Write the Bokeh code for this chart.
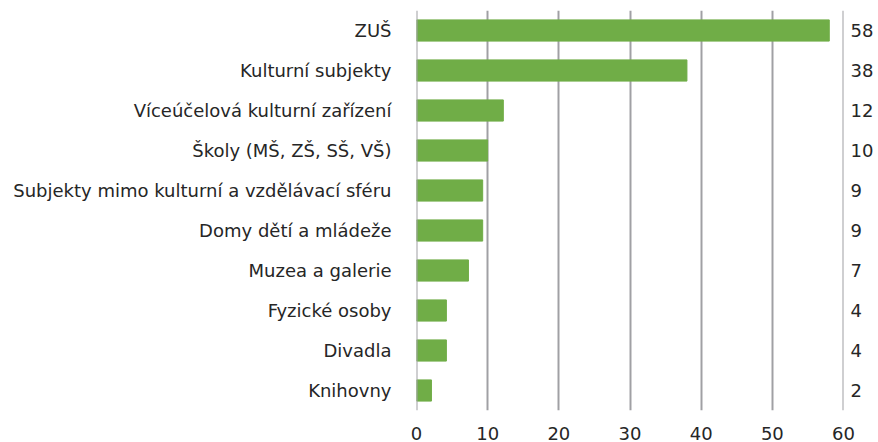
from bokeh.plotting import figure
from bokeh.models import Range1d, LinearAxis, FixedTicker, SingleIntervalTicker, Span
from bokeh.embed import file_html
from bokeh.resources import INLINE

categories = ["ZUŠ", "Kulturní subjekty", "Víceúčelová kulturní zařízení",
              "Školy (MŠ, ZŠ, SŠ, VŠ)", "Subjekty mimo kulturní a vzdělávací sféru",
              "Domy dětí a mládeže", "Muzea a galerie", "Fyzické osoby",
              "Divadla", "Knihovny"]
values = [58.0, 38.0, 12.2, 10.0, 9.3, 9.3, 7.3, 4.2, 4.2, 2.1]
value_labels = ["58", "38", "12", "10", "9", "9", "7", "4", "4", "2"]

n = len(categories)
ypos = [n - i for i in range(n)]

FONT = "DejaVu Sans"
TXT = "#262626"
GRID = "#A0A0A4"

p = figure(frame_width=427, frame_height=400, output_backend="svg", toolbar_location=None,
           x_range=Range1d(0, 60), y_range=Range1d(0.5, n + 0.5),
           x_axis_location="below", y_axis_location=None)
p.min_border_left = 416
p.min_border_right = 35
p.min_border_top = 10
p.min_border_bottom = 32
p.outline_line_color = None

p.hbar(y=ypos, right=values, left=0, height=0.53, color="#70AD47")

# x axis
p.xaxis.ticker = SingleIntervalTicker(interval=10)
p.xaxis.axis_line_color = None
p.xaxis.major_tick_line_color = None
p.xaxis.minor_tick_line_color = None
p.xaxis.major_tick_out = 0
p.xaxis.major_tick_in = 0
p.xaxis.minor_tick_out = 0
p.xaxis.major_label_text_font = FONT
p.xaxis.major_label_text_font_size = "18px"
p.xaxis.major_label_text_color = TXT
p.xaxis.major_label_standoff = 16

p.xgrid.ticker = SingleIntervalTicker(interval=10)
p.xgrid.grid_line_color = GRID
p.xgrid.grid_line_width = 2
p.ygrid.grid_line_color = None

# boundary lines at range start (axis line, above bars) and end
p.add_layout(Span(location=p.x_range.start, dimension="height", line_color=GRID,
                  line_width=2, level="overlay"))
p.add_layout(Span(location=p.x_range.end, dimension="height", line_color=GRID,
                  line_width=2))

left = LinearAxis(ticker=FixedTicker(ticks=ypos),
                  major_label_overrides={y: c for y, c in zip(ypos, categories)})
right = LinearAxis(ticker=FixedTicker(ticks=ypos),
                   major_label_overrides={y: v for y, v in zip(ypos, value_labels)})
for ax, standoff in ((left, 25), (right, 7)):
    ax.axis_line_color = None
    ax.major_tick_line_color = None
    ax.minor_tick_line_color = None
    ax.major_tick_out = 0
    ax.major_tick_in = 0
    ax.minor_tick_out = 0
    ax.major_label_text_font = FONT
    ax.major_label_text_font_size = "18px"
    ax.major_label_text_color = TXT
    ax.major_label_standoff = standoff
p.add_layout(left, "left")
p.add_layout(right, "right")

open("out.html", "w").write(file_html(p, INLINE))
